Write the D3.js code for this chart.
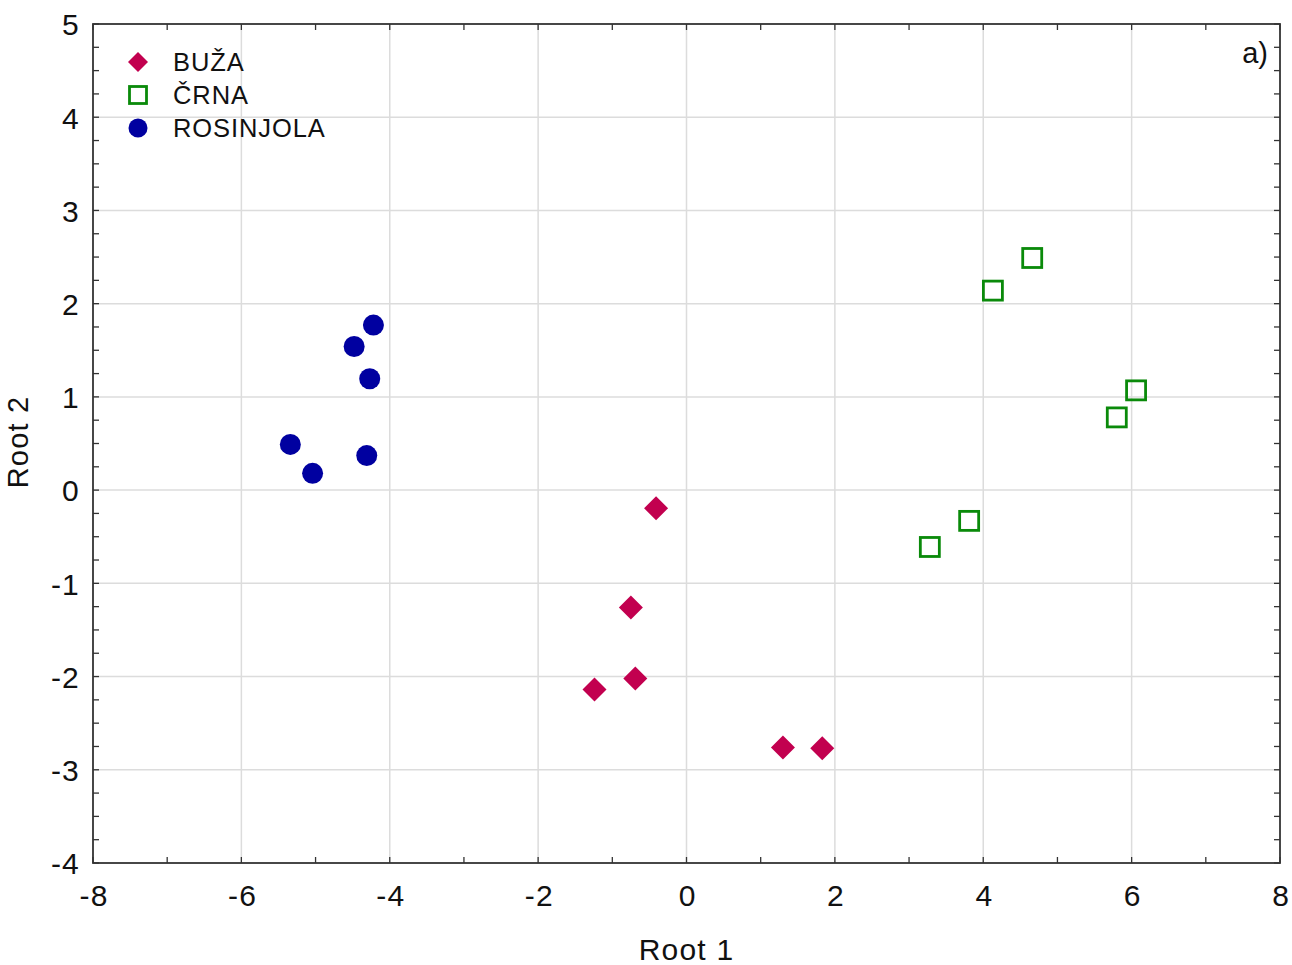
<!DOCTYPE html>
<html><head><meta charset="utf-8">
<script src="https://cdn.jsdelivr.net/npm/d3@7"></script>
<style>
body{margin:0;background:#fff;}
text{font-family:Arial,"Liberation Sans",sans-serif;fill:#111;}
</style></head><body>
<svg id="c" width="1292" height="965"></svg>
<script>
const groups = ["BUŽA", "ČRNA", "ROSINJOLA"];
const buzaX = [-0.41, -0.75, -0.69, -1.24, 1.30, 1.83];
const buzaY = [-0.195, -1.26, -2.02, -2.14, -2.76, -2.77];
const crnaX = [4.66, 4.13, 6.06, 5.80, 3.81, 3.28];
const crnaY = [2.49, 2.14, 1.07, 0.78, -0.33, -0.61];
const rosX = [-4.22, -4.48, -4.27, -5.34, -5.04, -4.31];
const rosY = [1.77, 1.54, 1.195, 0.49, 0.18, 0.37];
const xTicks = [-8, -6, -4, -2, 0, 2, 4, 6, 8];
const yTicks = [-4, -3, -2, -1, 0, 1, 2, 3, 4, 5];
const xTitle = "Root 1", yTitle = "Root 2", panel = "a)";

const L = 93, T = 24, R = 1280, B = 863;
const svg = d3.select("#c");
const x = d3.scaleLinear().domain([-8, 8]).range([L, R]);
const y = d3.scaleLinear().domain([-4, 5]).range([B, T]);

// grid
const g = svg.append("g");
g.selectAll(".gx").data(xTicks.slice(1, -1)).join("line")
  .attr("x1", d => x(d)).attr("x2", d => x(d)).attr("y1", T).attr("y2", B)
  .attr("stroke", "#dcdcdc").attr("stroke-width", 1.5);
g.selectAll(".gy").data(yTicks.slice(1, -1)).join("line")
  .attr("y1", d => y(d)).attr("y2", d => y(d)).attr("x1", L).attr("x2", R)
  .attr("stroke", "#dcdcdc").attr("stroke-width", 1.5);

// minor ticks
const xMinor = d3.range(-8, 8.001, 1);
const yMinor = d3.range(-4, 5.001, 0.25);
const tk = svg.append("g").attr("stroke", "#333").attr("stroke-width", 1.3);
xMinor.forEach(v => {
  tk.append("line").attr("x1", x(v)).attr("x2", x(v)).attr("y1", B).attr("y2", B - 6);
  tk.append("line").attr("x1", x(v)).attr("x2", x(v)).attr("y1", T).attr("y2", T + 6);
});
yMinor.forEach(v => {
  tk.append("line").attr("y1", y(v)).attr("y2", y(v)).attr("x1", L).attr("x2", L + 6);
  tk.append("line").attr("y1", y(v)).attr("y2", y(v)).attr("x1", R).attr("x2", R - 6);
});

// frame
svg.append("rect").attr("x", L).attr("y", T).attr("width", R - L).attr("height", B - T)
  .attr("fill", "none").attr("stroke", "#333").attr("stroke-width", 1.8);

const fmt = d => d < 0 ? "-" + Math.abs(d) : d;
const xAxis = svg.append("g").attr("transform", `translate(0,${B})`)
  .call(d3.axisBottom(x).tickValues(xTicks).tickSize(0).tickPadding(0).tickFormat(fmt));
xAxis.select(".domain").remove();
xAxis.selectAll("text").attr("y", 43).attr("dy", 0).attr("dx", "0.6px")
  .style("font-size", "30px").style("letter-spacing", "1.2px").attr("fill", "#111");
const yAxis = svg.append("g").attr("transform", `translate(${L},0)`)
  .call(d3.axisLeft(y).tickValues(yTicks).tickSize(0).tickPadding(0).tickFormat(fmt));
yAxis.select(".domain").remove();
yAxis.selectAll("text").attr("x", -13).attr("dy", "0.36em")
  .style("font-size", "30px").style("letter-spacing", "1.2px").attr("fill", "#111");

svg.append("text").attr("x", (L + R) / 2).attr("y", 960).attr("text-anchor", "middle")
  .style("font-size", "30px").style("letter-spacing", "1.2px").text(xTitle);
svg.append("text").attr("transform", `translate(28,442) rotate(-90)`)
  .attr("text-anchor", "middle").style("font-size", "29px").style("letter-spacing", "1.2px").text(yTitle);
svg.append("text").attr("x", 1268).attr("y", 63).attr("text-anchor", "end")
  .style("font-size", "29px").text(panel);

// markers
const red = "#c2004f", green = "#0a8a0a", blue = "#0000a0";
function diamond(sel, cx, cy, r) {
  sel.append("path").attr("d", `M${cx},${cy - r}L${cx + r},${cy}L${cx},${cy + r}L${cx - r},${cy}Z`).attr("fill", red);
}
function square(sel, cx, cy, s) {
  sel.append("rect").attr("x", cx - s / 2).attr("y", cy - s / 2).attr("width", s).attr("height", s)
    .attr("fill", "none").attr("stroke", green).attr("stroke-width", 2.8);
}
function circle(sel, cx, cy, r) {
  sel.append("circle").attr("cx", cx).attr("cy", cy).attr("r", r).attr("fill", blue);
}
const pts = svg.append("g");
buzaX.forEach((v, i) => diamond(pts, x(v), y(buzaY[i]), 12));
crnaX.forEach((v, i) => square(pts, x(v), y(crnaY[i]), 19));
rosX.forEach((v, i) => circle(pts, x(v), y(rosY[i]), 10.5));

// legend
const lg = svg.append("g");
const ly = [62, 95, 128];
diamond(lg, 138, ly[0], 10);
square(lg, 138, ly[1], 17);
circle(lg, 138, ly[2], 9.5);
groups.forEach((n, i) => lg.append("text").attr("x", 173).attr("y", ly[i]).attr("dy", "0.36em")
  .style("font-size", "25.5px").style("letter-spacing", "0.9px").text(n));
</script></body></html>
